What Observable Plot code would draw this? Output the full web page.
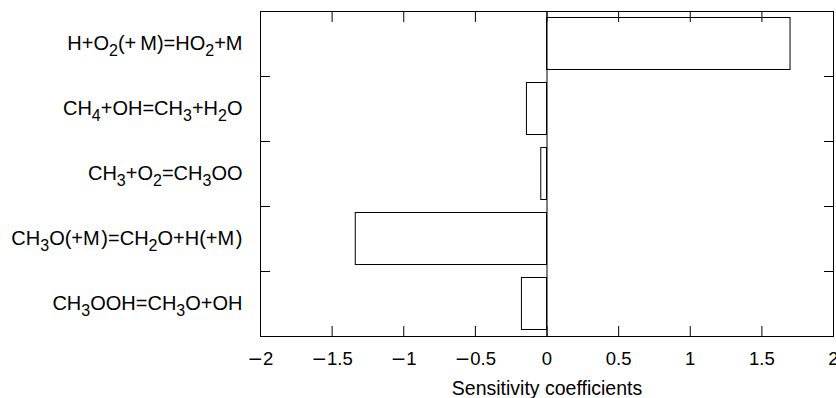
<!DOCTYPE html>
<html>
<head>
<meta charset="utf-8">
<script src="https://cdn.jsdelivr.net/npm/d3@7"></script>
<script src="https://cdn.jsdelivr.net/npm/@observablehq/plot@0.6"></script>
<style>
  html, body { margin: 0; padding: 0; background: #fff; overflow: hidden; }
  #chart svg { display: block; }
</style>
</head>
<body>
<div id="chart"></div>
<script>
// Reactions (use "_" before a digit to mark a subscript)
const reactions = [
  "H+O_2(+\u2009M)=HO_2+M",
  "CH_4+OH=CH_3+H_2O",
  "CH_3+O_2=CH_3OO",
  "CH_3O(+M\u200A)=CH_2O+H(+M\u200A)",
  "CH_3OOH=CH_3O+OH"
];
// Sensitivity coefficients
const coefficients = [1.70, -0.14, -0.04, -1.335, -0.175];
// Axis ticks
const xTicks = [-2, -1.5, -1, -0.5, 0, 0.5, 1, 1.5, 2];
const rowBoundaries = [1, 2, 3, 4];
const rowCenters = [0.5, 1.5, 2.5, 3.5, 4.5];
const xLabel = "Sensitivity coefficients";

const data = reactions.map((r, i) => ({reaction: r, index: i, value: coefficients[i]}));
const fmt = d3.format("~g");

const chart = Plot.plot({
  width: 836,
  height: 398,
  marginLeft: 260,
  marginRight: 3,
  marginTop: 11,
  marginBottom: 62,
  style: {fontFamily: "'Liberation Sans', Arial, Helvetica, sans-serif", color: "black", background: "white"},
  x: {domain: [-2, 2]},
  y: {domain: [0, 5], reverse: true},
  marks: [
    Plot.rectX(data, {
      x1: 0, x2: "value",
      y1: "index", y2: d => d.index + 1,
      insetTop: 6.5, insetBottom: 6.5,
      fill: "white", stroke: "black", strokeWidth: 1
    }),
    Plot.ruleX([0], {stroke: "black", strokeWidth: 1}),
    Plot.axisX({anchor: "bottom", ticks: xTicks, tickSize: -10, tickPadding: 25, fontSize: 18.5,
      tickFormat: fmt, label: null, stroke: "black", ariaLabel: "x-axis"}),
    Plot.axisX({anchor: "top", ticks: xTicks, tickSize: -10, tickFormat: () => "", label: null, stroke: "black"}),
    Plot.axisY({anchor: "left", ticks: rowBoundaries, tickSize: -10, tickFormat: () => "", label: null, stroke: "black"}),
    Plot.axisY({anchor: "right", ticks: rowBoundaries, tickSize: -10, tickFormat: () => "", label: null, stroke: "black"}),
    Plot.axisY({anchor: "left", ticks: rowCenters, tickSize: 0, tickPadding: 18, fontSize: 20,
      tickFormat: v => reactions[Math.floor(v)], label: null}),
    Plot.text([xLabel], {frameAnchor: "bottom", dy: 58, lineAnchor: "bottom", fontSize: 19.5, fill: "black"}),
    Plot.frame({stroke: "black", strokeWidth: 1})
  ]
});

document.getElementById("chart").appendChild(chart);

// Turn "_" markers into subscript tspans; widen the minus sign of tick labels
d3.select(chart).selectAll("text").each(function () {
  const el = this;
  const txt = el.textContent;
  if (!txt) return;
  const sel = d3.select(el);
  if (txt[0] === "\u2212" && txt.indexOf("_") < 0) {
    el.textContent = "";
    sel.append("tspan").attr("font-family", "'DejaVu Sans'").text("\u2212");
    sel.append("tspan").text(txt.slice(1));
    return;
  }
  if (txt.indexOf("_") < 0) return;
  const parts = [];
  let i = 0, buf = "";
  while (i < txt.length) {
    if (txt[i] === "_") {
      if (buf) parts.push({t: buf, sub: false});
      buf = "";
      parts.push({t: txt[i + 1], sub: true});
      i += 2;
    } else { buf += txt[i]; i++; }
  }
  if (buf) parts.push({t: buf, sub: false});
  el.textContent = "";
  let prevSub = false;
  parts.forEach(p => {
    const ts = sel.append("tspan").text(p.t);
    if (p.sub) ts.attr("font-size", "80%").attr("dy", "6");
    else if (prevSub) ts.attr("dy", "-6");
    prevSub = p.sub;
  });
});
</script>
</body>
</html>
